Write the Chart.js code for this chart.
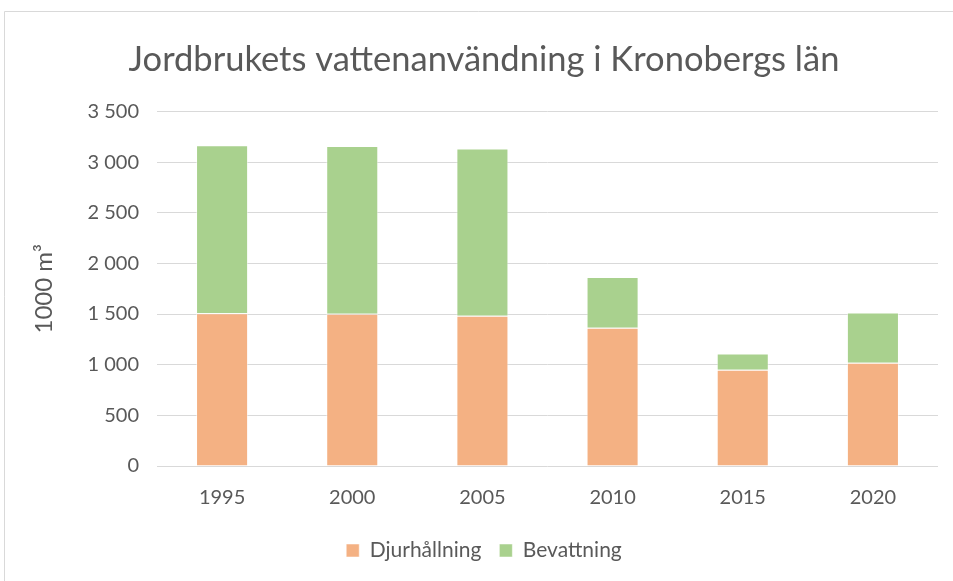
<!DOCTYPE html>
<html>
<head>
<meta charset="utf-8">
<script src="https://cdn.jsdelivr.net/npm/chart.js@4"></script>
<style>
  html, body { margin: 0; padding: 0; background: #fff; }
  #wrap { width: 953px; height: 581px; position: relative; }
</style>
</head>
<body>
<div id="wrap"><canvas id="myChart"></canvas></div>
<script>
// data
const years = ['1995', '2000', '2005', '2010', '2015', '2020'];
const djurhallning = [1508, 1502, 1482, 1364, 950, 1019];
const bevattning = [1657, 1656, 1653, 502, 161, 496];
const yTicks = [0, 500, 1000, 1500, 2000, 2500, 3000, 3500];

const textColor = '#595959';
const fontFam = 'Lato, "Open Sans", sans-serif';

// frame round the chart (left and top edges only are visible)
const framePlugin = {
    id: 'frame',
    beforeDraw(chart) {
        const ctx = chart.ctx;
        ctx.save();
        ctx.fillStyle = '#fff';
        ctx.fillRect(0, 0, chart.width, chart.height);
        ctx.strokeStyle = '#d9d9d9';
        ctx.lineWidth = 1;
        ctx.beginPath();
        ctx.moveTo(4.5, chart.height);
        ctx.lineTo(4.5, 11.5);
        ctx.lineTo(chart.width, 11.5);
        ctx.stroke();
        ctx.restore();
    }
};

const data = {
    labels: years,
    datasets: [
        {
            label: 'Djurhållning',
            data: djurhallning,
            backgroundColor: '#F4B183',
            borderColor: 'rgba(255,255,255,0.5)',
            borderWidth: 1,
            categoryPercentage: 0.8,
            barPercentage: 0.5
        },
        {
            label: 'Bevattning',
            data: bevattning,
            backgroundColor: '#A9D18E',
            borderColor: 'rgba(255,255,255,0.5)',
            borderWidth: 1,
            categoryPercentage: 0.8,
            barPercentage: 0.5
        }
    ]
};

const config = {
    type: 'bar',
    data,
    plugins: [framePlugin],
    options: {
        responsive: true,
        maintainAspectRatio: false,
        animation: false,
        layout: { padding: { left: 30, right: 15, top: 20, bottom: 10 } },
        plugins: {
            title: {
                display: true,
                text: 'Jordbrukets vattenanvändning i Kronobergs län',
                color: textColor,
                font: { family: fontFam, size: 34.5, weight: 'normal' },
                padding: { top: 19, bottom: 31 }
            },
            legend: {
                position: 'bottom',
                labels: {
                    color: textColor,
                    font: { family: fontFam, size: 21 },
                    boxWidth: 13,
                    boxHeight: 13,
                    padding: 18
                }
            },
            tooltip: { enabled: false }
        },
        scales: {
            x: {
                stacked: true,
                grid: { display: false },
                border: { display: false },
                ticks: {
                    color: textColor,
                    font: { family: fontFam, size: 20 },
                    padding: 12
                }
            },
            y: {
                stacked: true,
                min: 0,
                max: 3500,
                afterBuildTicks(scale) {
                    scale.ticks = yTicks.map(v => ({ value: v }));
                },
                afterFit(scale) {
                    scale.width = 127;
                },
                grid: { color: '#d9d9d9', lineWidth: 1, drawTicks: false },
                border: { display: false },
                ticks: {
                    color: textColor,
                    font: { family: fontFam, size: 20 },
                    padding: 18,
                    callback: v => String(v).replace(/\B(?=(\d{3})+(?!\d))/g, ' ')
                },
                title: {
                    display: true,
                    text: '1000 m³',
                    color: textColor,
                    font: { family: fontFam, size: 24 },
                    padding: 0
                }
            }
        }
    }
};

const myChart = new Chart(document.getElementById('myChart'), config);
</script>
</body>
</html>
